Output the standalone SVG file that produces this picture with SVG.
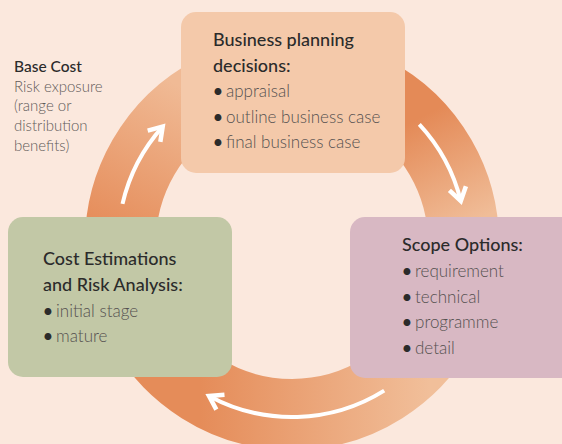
<svg xmlns="http://www.w3.org/2000/svg" width="562" height="444" viewBox="0 0 562 444">
  <style>
    .ring { fill: none; stroke-width: 71; }
    .arrow { fill: none; stroke: #ffffff; stroke-width: 4; stroke-linecap: butt; }
    .box { stroke: none; }
    .hd { font-family: Lato, "Liberation Sans", sans-serif; font-size: 18px; font-weight: 500; fill: #2b2b2b; }
    .it { font-family: Lato, "Liberation Sans", sans-serif; font-size: 17px; font-weight: 300; fill: #555150; }
    .bul { fill: #2b2b2b; font-weight: 600; }
    .side-hd { font-family: Lato, "Liberation Sans", sans-serif; font-size: 15.5px; font-weight: 500; fill: #2b2b2b; }
    .side { font-family: Lato, "Liberation Sans", sans-serif; font-size: 15px; font-weight: 300; fill: #5f5b59; }
  </style>
  <defs>
    <linearGradient id="gLeft" gradientUnits="userSpaceOnUse" x1="100" y1="235" x2="178" y2="85">
      <stop offset="0" stop-color="#e58b58"/>
      <stop offset="1" stop-color="#f0ba95"/>
    </linearGradient>
    <linearGradient id="gRight" gradientUnits="userSpaceOnUse" x1="425" y1="115" x2="478" y2="220">
      <stop offset="0" stop-color="#e48a57"/>
      <stop offset="1" stop-color="#f0bd98"/>
    </linearGradient>
    <linearGradient id="gBottom" gradientUnits="userSpaceOnUse" x1="200" y1="0" x2="430" y2="0">
      <stop offset="0" stop-color="#e58c59"/>
      <stop offset="1" stop-color="#f1bf9a"/>
    </linearGradient>
    <marker id="head" markerUnits="userSpaceOnUse" markerWidth="30" markerHeight="30" viewBox="-20 -15 30 30" refX="0" refY="0" orient="auto">
      <path d="M -13,-8.5 L 0,0 L -13,8.5" fill="none" stroke="#ffffff" stroke-width="4.5" stroke-linejoin="miter" stroke-miterlimit="10"/>
    </marker>
  </defs>

  <rect x="0" y="0" width="562" height="444" fill="#fbe8dd"/>

  <g id="cycle-ring">
    <path class="ring" stroke="url(#gLeft)" d="M 143.48 328.75 A 171.5 171.5 0 0 1 292 71.5"/>
    <path class="ring" stroke="url(#gRight)" d="M 292 71.5 A 171.5 171.5 0 0 1 440.52 328.75"/>
    <path class="ring" stroke="url(#gBottom)" d="M 440.52 328.75 A 171.5 171.5 0 0 1 143.48 328.75"/>
  </g>

  <g id="connectors">
    <path class="arrow" marker-end="url(#head)" d="M 122.5 203.9 A 174 174 0 0 1 162.7 126.6"/>
    <path class="arrow" marker-end="url(#head)" d="M 419.3 124.3 A 174 174 0 0 1 460.8 200.9"/>
    <path class="arrow" marker-end="url(#head)" d="M 384.2 390.6 A 174 174 0 0 1 209 395.9"/>
  </g>

  <g id="base-cost-note">
    <text class="side-hd" x="14" y="72">Base Cost</text>
    <text class="side" x="14" y="91.7">Risk exposure</text>
    <text class="side" x="14" y="111.4">(range or</text>
    <text class="side" x="14" y="131.1">distribution</text>
    <text class="side" x="14" y="150.8">benefits)</text>
  </g>

  <g id="business-planning">
    <rect class="box" x="181" y="12" width="224" height="161" rx="15" fill="#f4c9aa"/>
    <text class="hd" x="213" y="46">Business planning</text>
    <text class="hd" x="213" y="72">decisions:</text>
    <text class="it" x="213" y="97"><tspan class="bul">•</tspan><tspan x="226">appraisal</tspan></text>
    <text class="it" x="213" y="123"><tspan class="bul">•</tspan><tspan x="226">outline business case</tspan></text>
    <text class="it" x="213" y="148"><tspan class="bul">•</tspan><tspan x="226">final business case</tspan></text>
  </g>

  <g id="scope-options">
    <rect class="box" x="350" y="217" width="230" height="161" rx="15" fill="#d8b8c3"/>
    <text class="hd" x="402" y="251">Scope Options:</text>
    <text class="it" x="402" y="277"><tspan class="bul">•</tspan><tspan x="415">requirement</tspan></text>
    <text class="it" x="402" y="303"><tspan class="bul">•</tspan><tspan x="415">technical</tspan></text>
    <text class="it" x="402" y="328"><tspan class="bul">•</tspan><tspan x="415">programme</tspan></text>
    <text class="it" x="402" y="354"><tspan class="bul">•</tspan><tspan x="415">detail</tspan></text>
  </g>

  <g id="cost-estimations">
    <rect class="box" x="8" y="217" width="224" height="160" rx="15" fill="#c2c8a6"/>
    <text class="hd" x="43" y="265">Cost Estimations</text>
    <text class="hd" x="43" y="291">and Risk Analysis:</text>
    <text class="it" x="43" y="317"><tspan class="bul">•</tspan><tspan x="56">initial stage</tspan></text>
    <text class="it" x="43" y="342"><tspan class="bul">•</tspan><tspan x="56">mature</tspan></text>
  </g>
</svg>
